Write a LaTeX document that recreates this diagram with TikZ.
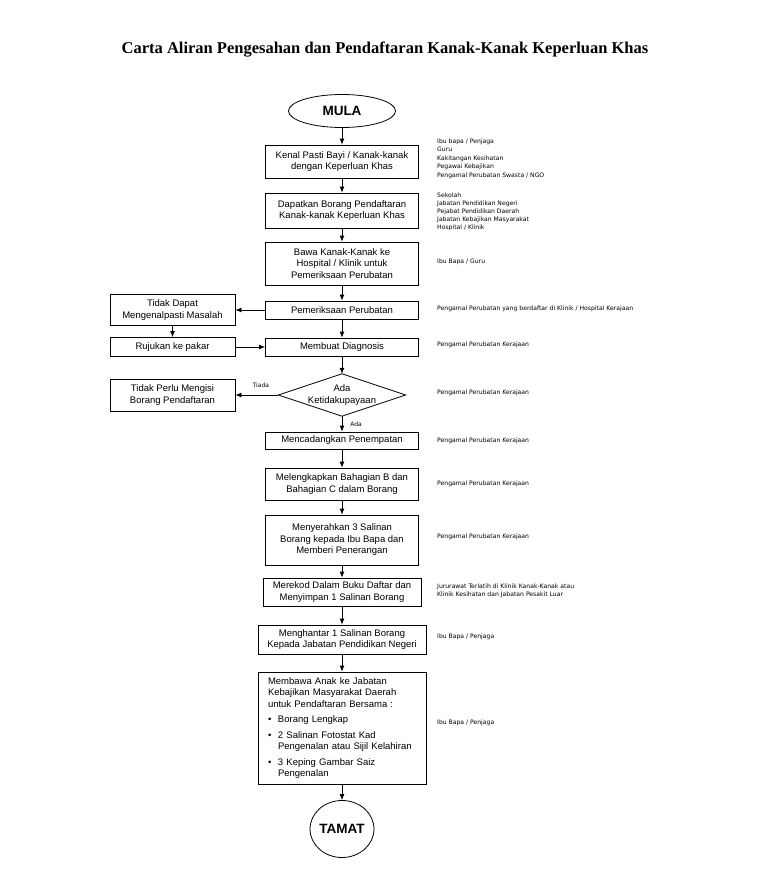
\documentclass[tikz,border=0pt]{standalone}
\usepackage{fontspec}
\setmainfont{Liberation Serif}
\setsansfont{Liberation Sans}
\newfontfamily\notefont{DejaVu Sans}
\usetikzlibrary{shapes.geometric,arrows.meta}
\begin{document}
\begin{tikzpicture}[x=1pt,y=-1pt,
  box/.style={draw,line width=0.8pt,font=\sffamily\fontsize{9.5}{11.5}\selectfont,align=center,inner sep=1pt},
  term/.style={ellipse,draw,line width=0.8pt,font=\sffamily\bfseries\fontsize{13.5}{15}\selectfont,inner sep=0pt},
  note/.style={anchor=west,font=\notefont\fontsize{6.1}{8.5}\selectfont,inner sep=0pt,align=left},
  lab/.style={font=\notefont\fontsize{6}{8}\selectfont,inner sep=1pt},
  arr/.style={-{Latex[length=6pt,width=5pt]},line width=0.8pt}
]
\useasboundingbox (0,0) rectangle (768,892);

\node[font=\rmfamily\bfseries\fontsize{16.5}{19}\selectfont] (title) at (385,50)
  {Carta Aliran Pengesahan dan Pendaftaran Kanak-Kanak Keperluan Khas};

% main column
\node[term,minimum width=107pt,minimum height=33pt] (mula) at (342,111) {MULA};
\node[box,minimum width=153pt,minimum height=33pt] (b1) at (342,161.5) {Kenal Pasti Bayi / Kanak-kanak\\dengan Keperluan Khas};
\node[box,minimum width=153pt,minimum height=35pt] (b2) at (342,210.5) {Dapatkan Borang Pendaftaran\\Kanak-kanak Keperluan Khas};
\node[box,minimum width=153pt,minimum height=43pt] (b3) at (342,263.5) {Bawa Kanak-Kanak ke\\Hospital / Klinik untuk\\Pemeriksaan Perubatan};
\node[box,minimum width=153pt,minimum height=18pt] (b4) at (342,310) {Pemeriksaan Perubatan};
\node[box,minimum width=153pt,minimum height=18pt] (b5) at (342,347) {Membuat Diagnosis};
\node[minimum width=127pt,minimum height=42pt,inner sep=0pt,align=center,font=\sffamily\fontsize{9.5}{11.5}\selectfont] (d) at (342,395) {Ada\\Ketidakupayaan};
\draw[line width=0.8pt] (d.north) -- (d.east) -- (d.south) -- (d.west) -- cycle;
\node[box,minimum width=153pt,minimum height=17pt] (b6) at (342,440.5) {Mencadangkan Penempatan};
\node[box,minimum width=153pt,minimum height=32pt] (b7) at (342,484) {Melengkapkan Bahagian B dan\\Bahagian C dalam Borang};
\node[box,minimum width=153pt,minimum height=50pt] (b8) at (342,540) {Menyerahkan 3 Salinan\\Borang kepada Ibu Bapa dan\\Memberi Penerangan};
\node[box,minimum width=158pt,minimum height=28pt] (b9) at (342,592) {Merekod Dalam Buku Daftar dan\\Menyimpan 1 Salinan Borang};
\node[box,minimum width=168pt,minimum height=29pt] (b10) at (342,639.5) {Menghantar 1 Salinan Borang\\Kepada Jabatan Pendidikan Negeri};
\node[box,minimum width=168pt,minimum height=112pt,text width=148pt,inner xsep=10pt,align=left] (b11) at (342,728)
  {Membawa Anak ke Jabatan\\Kebajikan Masyarakat Daerah\\untuk Pendaftaran Bersama :\\[4pt]
   \makebox[10pt][l]{\textbullet}Borang Lengkap\\[4pt]
   \makebox[10pt][l]{\textbullet}2 Salinan Fotostat Kad\\
   \hspace*{10pt}Pengenalan atau Sijil Kelahiran\\[4pt]
   \makebox[10pt][l]{\textbullet}3 Keping Gambar Saiz\\
   \hspace*{10pt}Pengenalan};
\node[term,minimum width=60pt,minimum height=57pt] (tamat) at (342,829) {TAMAT};

% side column
\node[box,minimum width=125pt,minimum height=31pt] (td) at (172.5,310) {Tidak Dapat\\Mengenalpasti Masalah};
\node[box,minimum width=125pt,minimum height=19pt] (ruj) at (172.5,347) {Rujukan ke pakar};
\node[box,minimum width=125pt,minimum height=32pt] (tp) at (172.5,395) {Tidak Perlu Mengisi\\Borang Pendaftaran};

% connectors
\draw[arr] (mula) -- (b1);
\draw[arr] (b1) -- (b2);
\draw[arr] (b2) -- (b3);
\draw[arr] (b3) -- (b4);
\draw[arr] (b4) -- (b5);
\draw[arr] (b5) -- (d.north);
\draw[arr] (d.south) -- (b6) node[lab,midway,right,xshift=7pt] {Ada};
\draw[arr] (b6) -- (b7);
\draw[arr] (b7) -- (b8);
\draw[arr] (b8) -- (b9);
\draw[arr] (b9) -- (b10);
\draw[arr] (b10) -- (b11);
\draw[arr] (b11) -- (tamat);
\draw[arr] (b4.west) -- (td.east);
\draw[arr] (td) -- (ruj);
\draw[arr] (ruj) -- (b5);
\draw[arr] (d.west) -- (tp.east) node[lab,midway,above,yshift=6pt,xshift=4pt] {Tiada};

% notes
\node[note,anchor=north west] (n1) at (437,138.5) {Ibu bapa / Penjaga\\Guru\\Kakitangan Kesihatan\\Pegawai Kebajikan\\Pengamal Perubatan Swasta / NGO};
\node[note,anchor=north west,font=\notefont\fontsize{6.1}{8}\selectfont] (n2) at (437,192.5) {Sekolah\\Jabatan Pendidikan Negeri\\Pejabat Pendidikan Daerah\\Jabatan Kebajikan Masyarakat\\Hospital / Klinik};
\node[note] (n3) at (437,262) {Ibu Bapa / Guru};
\node[note] (n4) at (437,309) {Pengamal Perubatan yang berdaftar di Klinik / Hospital Kerajaan};
\node[note] (n5) at (437,345) {Pengamal Perubatan Kerajaan};
\node[note] (n6) at (437,393) {Pengamal Perubatan Kerajaan};
\node[note] (n7) at (437,441) {Pengamal Perubatan Kerajaan};
\node[note] (n8) at (437,484) {Pengamal Perubatan Kerajaan};
\node[note] (n9) at (437,537) {Pengamal Perubatan Kerajaan};
\node[note,anchor=north west] (n10) at (437,583.5) {Jururawat Terlatih di Klinik Kanak-Kanak atau\\Klinik Kesihatan dan Jabatan Pesakit Luar};
\node[note] (n11) at (437,637) {Ibu Bapa / Penjaga};
\node[note] (n12) at (437,723) {Ibu Bapa / Penjaga};
\end{tikzpicture}
\end{document}
